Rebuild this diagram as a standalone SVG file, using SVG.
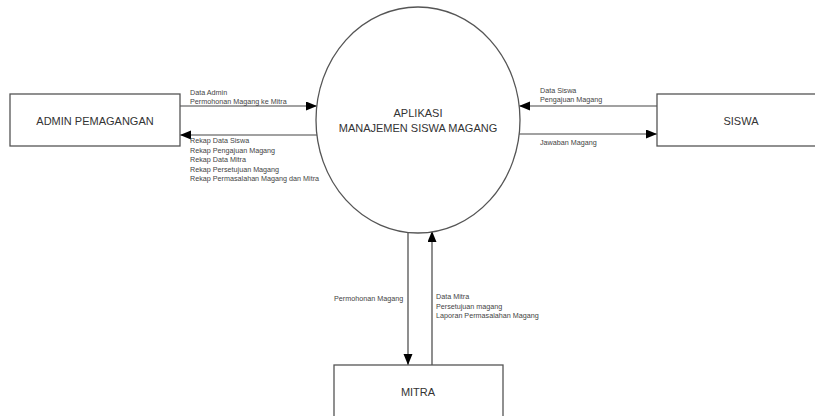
<svg xmlns="http://www.w3.org/2000/svg" width="815" height="416" viewBox="0 0 815 416">
<style>
.box{fill:#fff;stroke:#555;stroke-width:1.3}
.big{font-family:"Liberation Sans",Arial,sans-serif;font-size:11px;fill:#333;text-anchor:middle}
.sm{font-family:"Liberation Sans",Arial,sans-serif;font-size:7.2px;fill:#444}
.ln{stroke:#444;stroke-width:1.2;fill:none}
</style>
<defs>
<marker id="ah" markerUnits="userSpaceOnUse" markerWidth="12" markerHeight="10" refX="11" refY="4.5" orient="auto">
<path d="M0,0 L11,4.5 L0,9 z" fill="#000"/>
</marker>
</defs>
<rect width="815" height="416" fill="#fff"/>
<g id="connectors">
<line class="ln" x1="180" y1="106" x2="317" y2="106" marker-end="url(#ah)"/>
<line class="ln" x1="317" y1="135" x2="180" y2="135" marker-end="url(#ah)"/>
<line class="ln" x1="657" y1="106" x2="519" y2="106" marker-end="url(#ah)"/>
<line class="ln" x1="519" y1="134" x2="657" y2="134" marker-end="url(#ah)"/>
<line class="ln" x1="408" y1="232" x2="408" y2="365" marker-end="url(#ah)"/>
<line class="ln" x1="432" y1="365" x2="432" y2="231" marker-end="url(#ah)"/>
<text class="sm" x="190" y="95">Data Admin</text>
<text class="sm" x="190" y="104">Permohonan Magang ke Mitra</text>
<text class="sm" x="190" y="143">Rekap Data Siswa</text>
<text class="sm" x="190" y="152.5">Rekap Pengajuan Magang</text>
<text class="sm" x="190" y="162">Rekap Data Mitra</text>
<text class="sm" x="190" y="171.5">Rekap Persetujuan Magang</text>
<text class="sm" x="190" y="181">Rekap Permasalahan Magang dan Mitra</text>
<text class="sm" x="540" y="93">Data Siswa</text>
<text class="sm" x="540" y="102">Pengajuan Magang</text>
<text class="sm" x="540" y="145">Jawaban Magang</text>
<text class="sm" x="334" y="301">Permohonan Magang</text>
<text class="sm" x="436" y="299">Data Mitra</text>
<text class="sm" x="436" y="308.5">Persetujuan magang</text>
<text class="sm" x="436" y="318">Laporan Permasalahan Magang</text>
</g>
<g id="admin">
<rect class="box" x="10" y="94" width="170" height="52"/>
<text class="big" x="95" y="125">ADMIN PEMAGANGAN</text>
</g>
<g id="siswa">
<rect class="box" x="657" y="94" width="170" height="52"/>
<text class="big" x="741" y="125">SISWA</text>
</g>
<g id="aplikasi">
<ellipse class="box" cx="418" cy="120" rx="102" ry="113"/>
<text class="big" x="418" y="117">APLIKASI</text>
<text class="big" x="418" y="132">MANAJEMEN SISWA MAGANG</text>
</g>
<g id="mitra">
<rect class="box" x="334" y="365" width="169" height="60"/>
<text class="big" x="418" y="396">MITRA</text>
</g>
</svg>
